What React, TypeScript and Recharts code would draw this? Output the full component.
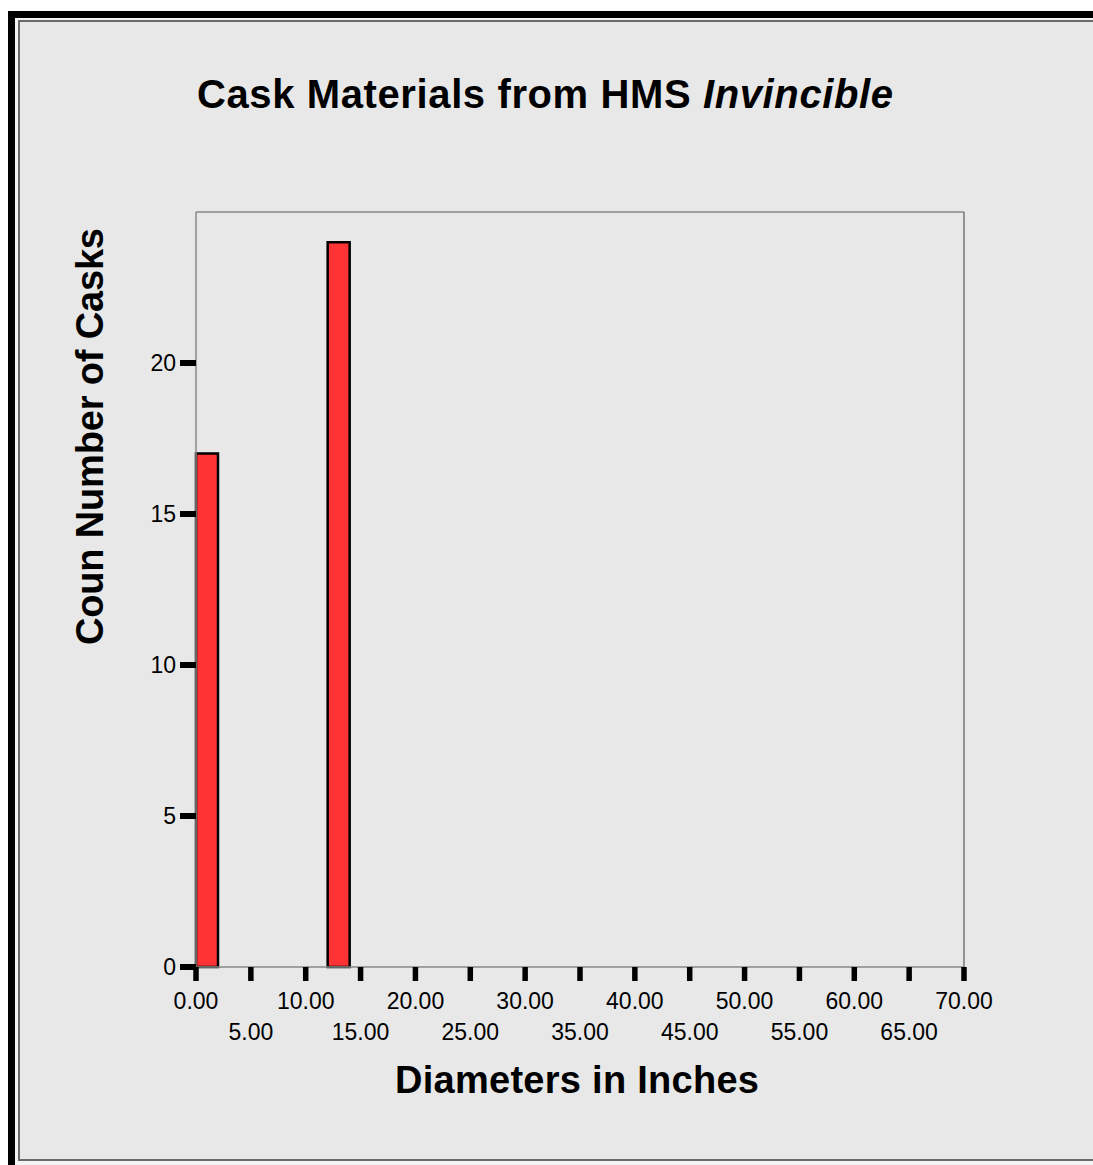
import * as React from 'react';
import { ComposedChart, Bar, XAxis, YAxis, ReferenceLine } from 'recharts';

// histogram bins, 2 inches wide
const binStarts = [0, 2, 4, 6, 8, 10, 12, 14, 16, 18, 20, 22, 24, 26, 28, 30, 32, 34, 36, 38, 40, 42, 44, 46, 48, 50, 52, 54, 56, 58, 60, 62, 64, 66, 68];
const caskCounts = [17, 0, 0, 0, 0, 0, 24, 0, 0, 0, 0, 0, 0, 0, 0, 0, 0, 0, 0, 0, 0, 0, 0, 0, 0, 0, 0, 0, 0, 0, 0, 0, 0, 0, 0];
const xTicks = [0, 5, 10, 15, 20, 25, 30, 35, 40, 45, 50, 55, 60, 65, 70];
const yTicks = [0, 5, 10, 15, 20];

const data = binStarts.map((s, i) => ({ bin: `${s}-${s + 2}`, mid: s + 1, count: caskCounts[i] }));

const font = '"Liberation Sans", Arial, sans-serif';

const XTick = (props: any) => {
  const { x, y, payload } = props;
  const lower = xTicks.indexOf(payload.value) % 2 === 1;
  return (
    <text x={x} y={y} dy={lower ? 57 : 26} textAnchor="middle" fontSize={23} fontFamily={font} fill="#000">
      {payload.value.toFixed(2)}
    </text>
  );
};

const App = () => {
  return (
    <div style={{ position: 'absolute', left: 0, top: 0, width: 1093, height: 1165, overflow: 'hidden', background: '#fff' }}>
      <div style={{ position: 'absolute', left: 8, top: 11, width: 1200, height: 1154, background: '#000' }} />
      <div style={{ position: 'absolute', left: 15, top: 18, width: 1200, height: 1147, background: '#f4f4f4' }} />
      <div style={{ position: 'absolute', left: 18, top: 20, width: 1200, height: 1137, background: '#e8e8e8', border: '2px solid #6a6a6a' }} />
      <div style={{ position: 'absolute', left: 0, top: 0 }}>
        <ComposedChart width={1093} height={1165} data={data} barCategoryGap={0}
          margin={{ top: 212, right: 129, bottom: 118, left: 100 }}>
          <XAxis xAxisId="num" dataKey="mid" type="number" domain={[0, 70]} ticks={xTicks} height={80}
            axisLine={{ stroke: '#888', strokeWidth: 1.5 }} tickLine={{ stroke: '#000', strokeWidth: 5.5 }}
            tickSize={14} tickMargin={2} tick={<XTick />} interval={0} />
          <XAxis xAxisId="bins" dataKey="bin" hide height={0} />
          <YAxis type="number" domain={[0, 25]} ticks={yTicks} width={96}
            axisLine={{ stroke: '#888', strokeWidth: 1.5 }} tickLine={{ stroke: '#000', strokeWidth: 6 }}
            tickSize={16} tickMargin={4} tick={{ fontSize: 23, fontFamily: font, fill: '#000' }} />
          <ReferenceLine y={25} xAxisId="num" stroke="#888" strokeWidth={1.5} />
          <ReferenceLine x={70} xAxisId="num" stroke="#777" strokeWidth={1.5} />
          <Bar xAxisId="bins" dataKey="count" fill="#ff3333" stroke="#000" strokeWidth={2.5} isAnimationActive={false} />
        </ComposedChart>
      </div>
      <svg width={1093} height={1165} style={{ position: 'absolute', left: 0, top: 0, pointerEvents: 'none' }}>
        <text x={545} y={108} textAnchor="middle" fontSize={40} fontWeight="bold" fontFamily={font}
          textLength={696} lengthAdjust="spacing">
          Cask Materials from HMS <tspan fontStyle="italic">Invincible</tspan>
        </text>
        <text x={577} y={1093} textAnchor="middle" fontSize={38} fontWeight="bold" fontFamily={font}
          textLength={364} lengthAdjust="spacing">
          Diameters in Inches
        </text>
        <text transform="translate(103,436.5) rotate(-90)" textAnchor="middle" fontSize={38} fontWeight="bold"
          fontFamily={font} textLength={417} lengthAdjust="spacing">
          Coun Number of Casks
        </text>
      </svg>
    </div>
  );
};

export default App;
